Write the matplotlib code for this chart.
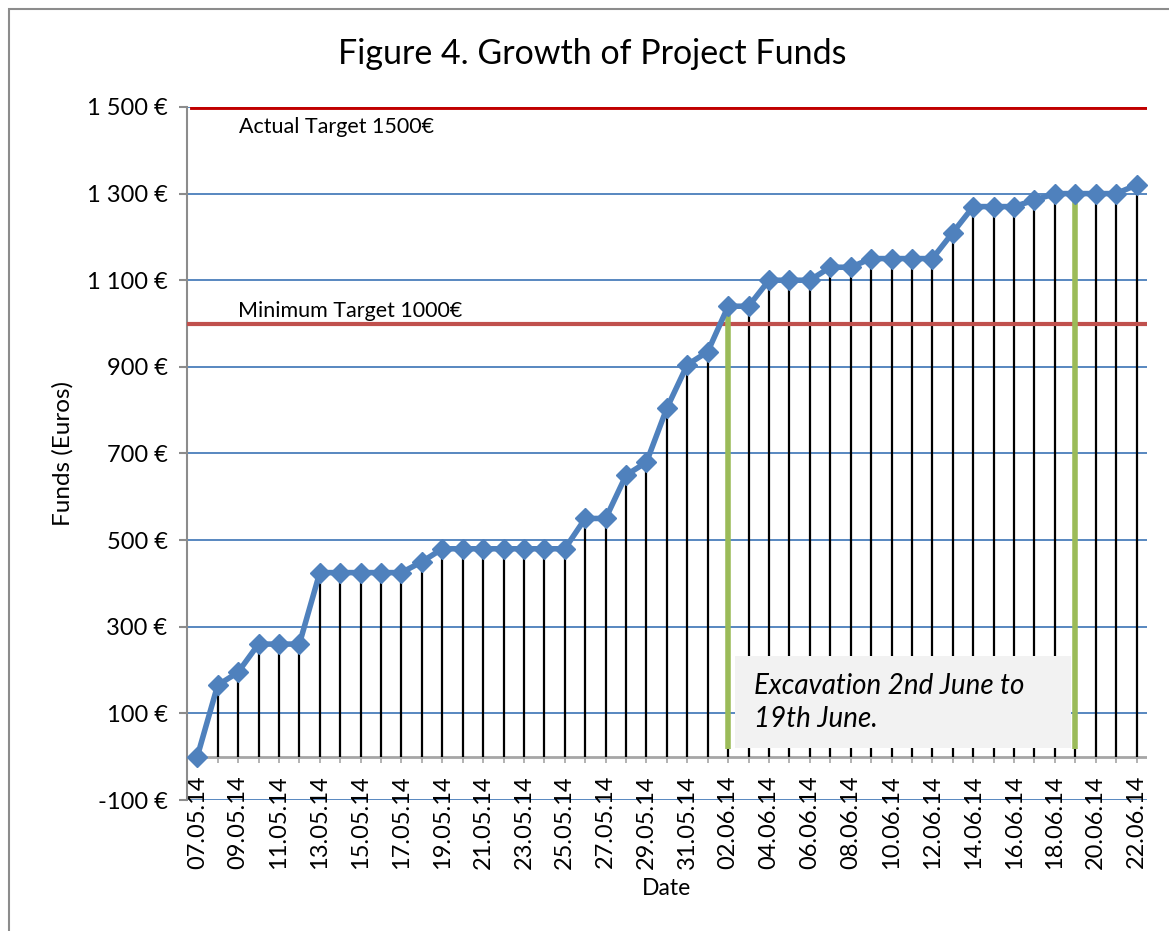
"""
Growth of project funds, May-June 2014, Excel-style line chart with drop lines.
"""
import matplotlib
matplotlib.use("Agg")
import matplotlib.pyplot as plt
from matplotlib.patches import Rectangle
import numpy as np

plt.rcParams["font.family"] = ["Lato", "DejaVu Sans"]

# Daily dates 07.05.14 .. 22.06.14
may_days = [f"{d:02d}.05.14" for d in range(7, 32)]
june_days = [f"{d:02d}.06.14" for d in range(1, 23)]
dates = may_days + june_days

funds = [
    0, 165, 195, 260, 260, 260, 425, 425, 425, 425,
    425, 450, 480, 480, 480, 480, 480, 480, 480, 550,
    550, 650, 680, 805, 905, 935, 1040, 1040, 1100, 1100,
    1100, 1130, 1130, 1150, 1150, 1150, 1150, 1210, 1270, 1270,
    1270, 1285, 1300, 1300, 1300, 1300, 1320,
]

targets = [1500, 1000]
target_labels = ["Actual Target 1500€", "Minimum Target 1000€"]

excavation_dates = ["02.06.14", "19.06.14"]
excavation_tops = [1030, 1290]
excavation_text = "Excavation 2nd June to\n19th June."

y_ticks = list(range(-100, 1501, 200))
y_tick_labels = ["-100 €", "100 €", "300 €", "500 €", "700 €", "900 €",
                 "1 100 €", "1 300 €", "1 500 €"]

fig = plt.figure(figsize=(11.69, 9.31), dpi=100)
ax = fig.add_axes([0.160, 0.1407, 0.821, 0.7444])

x = np.arange(len(dates))
ax.set_xlim(-0.5, len(dates) - 0.5)
ax.set_ylim(-100, 1500)

# gridlines
for t in y_ticks:
    ax.axhline(t, color="#4A7EBB", lw=1.3, zorder=1)

# category axis at zero
ax.axhline(0, color="#A6A6A6", lw=2, zorder=2)
ax.vlines(x, -14, 0, color="#A6A6A6", lw=1.2, zorder=2)

# drop lines
ax.vlines(x, 0, funds, color="black", lw=1.6, zorder=3)

# target lines
ax.plot([-0.25, len(dates) - 0.5], [targets[0]] * 2, color="#C00000", lw=3.5, zorder=4)
ax.plot([-0.5, len(dates) - 0.5], [targets[1]] * 2, color="#C0504D", lw=3, zorder=4)
ax.text(2.05, targets[0] - 22, target_labels[0], fontsize=15.5, va="top", ha="left", zorder=6)
ax.text(2.0, targets[1] + 6, target_labels[1], fontsize=15.5, va="bottom", ha="left", zorder=6)

# excavation box and markers
i0 = dates.index(excavation_dates[0])
i1 = dates.index(excavation_dates[1])
ax.add_patch(Rectangle((i0 + 0.35, 20), (i1 - i0) - 0.55, 212,
                       facecolor="#F2F2F2", edgecolor="none", zorder=5))
for idx, top in zip([i0, i1], excavation_tops):
    ax.plot([idx, idx], [18, top], color="#9BBB59", lw=4, zorder=5, solid_capstyle="butt")
ax.text(i0 + 1.26, 125, excavation_text, fontsize=20, style="italic",
        va="center", ha="left", linespacing=1.3, zorder=6)

# funds series
ax.plot(x, funds, color="#4F81BD", lw=4, marker="D", markersize=10,
        markerfacecolor="#4F81BD", markeredgecolor="#4F81BD", zorder=7, clip_on=False)

# axes styling
for side in ["top", "right", "bottom"]:
    ax.spines[side].set_visible(False)
ax.spines["left"].set_color("#8C8C8C")
ax.spines["left"].set_linewidth(1.5)

ax.set_yticks(y_ticks)
ax.set_yticklabels(y_tick_labels, fontsize=17)
ax.tick_params(axis="y", length=6, width=1.5, color="#8C8C8C", pad=8)

ax.set_xticks(x[::2])
ax.set_xticklabels(dates[::2], rotation=90, fontsize=17)
ax.tick_params(axis="x", length=0, pad=-18)

ax.set_ylabel("Funds (Euros)", fontsize=17.5)
ax.yaxis.set_label_coords(-0.118, 0.5)
ax.set_xlabel("Date", fontsize=16.5)
ax.xaxis.set_label_coords(0.5, -0.112)

fig.text(0.507, 0.942, "Figure 4. Growth of Project Funds", fontsize=24.5,
         ha="center", va="center")

# chart border
fig.patches.append(Rectangle((9 / 1169, -0.05), 1.2, 0.05 + 1 - 9 / 931,
                             transform=fig.transFigure, facecolor="none",
                             edgecolor="#8C8C8C", lw=1.5))

fig.savefig("out.png", dpi=100)
